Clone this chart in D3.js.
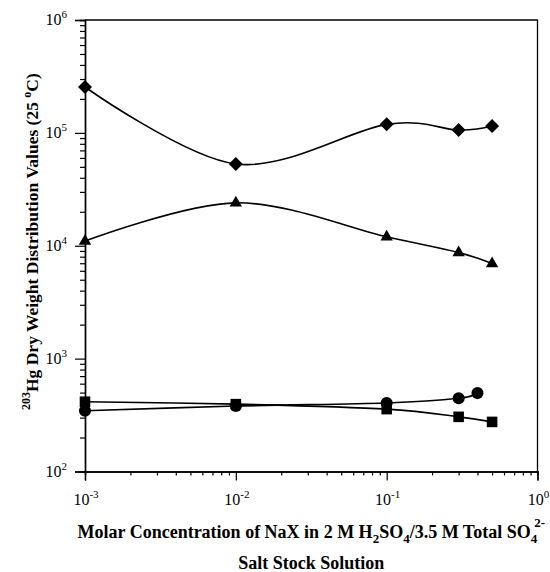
<!DOCTYPE html>
<html>
<head>
<meta charset="utf-8">
<script src="https://cdn.jsdelivr.net/npm/d3@7"></script>
<style>
  body { margin: 0; background: #fff; }
  svg { display: block; }
  text { font-family: "Liberation Serif", "Times New Roman", serif; fill: #000; }
</style>
</head>
<body>
<div id="chart"></div>
<script>
// concentrations (M) and distribution values
var conc = [0.001, 0.01, 0.1, 0.3, 0.5];
var concCircle = [0.001, 0.01, 0.1, 0.3, 0.4];
var diamondVals = [255000, 53000, 119000, 106000, 115000];
var triangleVals = [11000, 24000, 12000, 8700, 6950];
var squareVals = [415, 395, 357, 305, 275];
var circleVals = [345, 380, 405, 445, 495];

var xMajor = [0.001, 0.01, 0.1, 1];
var xExp = ["-3", "-2", "-1", "0"];
var yMajor = [100, 1000, 10000, 100000, 1000000];
var yExp = ["2", "3", "4", "5", "6"];

var width = 550, height = 572;
var margin = {top: 20, right: 12.5, bottom: 100.5, left: 85};

var svg = d3.select("#chart").append("svg")
    .attr("width", width)
    .attr("height", height);

var x = d3.scaleLog().domain([0.001, 1]).range([margin.left, width - margin.right]);
var y = d3.scaleLog().domain([100, 1000000]).range([height - margin.bottom, margin.top]);

function minors(majors) {
    var out = [];
    majors.slice(0, -1).forEach(function(m) {
        for (var k = 2; k <= 9; k++) out.push(m * k);
    });
    return out;
}

// frame (top and right)
svg.append("path")
    .attr("d", "M" + x(0.001) + "," + y(1e6) + "H" + x(1) + "V" + y(100))
    .attr("fill", "none").attr("stroke", "#000").attr("stroke-width", 1.3);

// x axis
var gx = svg.append("g").attr("transform", "translate(0," + y(100) + ")");
gx.call(d3.axisBottom(x).tickValues(xMajor).tickSize(9).tickFormat(""));
gx.append("g").call(d3.axisBottom(x).tickValues(minors(xMajor)).tickSize(4).tickFormat(""));

// y axis
var gy = svg.append("g").attr("transform", "translate(" + x(0.001) + ",0)");
gy.call(d3.axisLeft(y).tickValues(yMajor).tickSize(10).tickFormat(""));
gy.append("g").call(d3.axisLeft(y).tickValues(minors(yMajor)).tickSize(5).tickFormat(""));

svg.selectAll(".domain").attr("stroke-width", 1.4);
svg.selectAll(".tick line").attr("stroke-width", 1.2);

// tick labels
xMajor.forEach(function(v, i) {
    var t = svg.append("text")
        .attr("x", x(v) + 1)
        .attr("y", 505)
        .attr("text-anchor", "middle")
        .style("font-size", "16px");
    t.append("tspan").text("10");
    t.append("tspan").attr("dy", -7).style("font-size", "11px").text(xExp[i]);
});
yMajor.forEach(function(v, i) {
    var t = svg.append("text")
        .attr("x", 67)
        .attr("y", y(v) + 5)
        .attr("text-anchor", "end")
        .style("font-size", "16px");
    t.append("tspan").text("10");
    t.append("tspan").attr("dy", -7).style("font-size", "11px").text(yExp[i]);
});

// curves
var line = d3.line()
    .x(function(d) { return x(d[0]); })
    .y(function(d) { return y(d[1]); })
    .curve(d3.curveCardinal.tension(0));

var series = [
    {xs: conc, ys: diamondVals, shape: "diamond"},
    {xs: conc, ys: triangleVals, shape: "triangle"},
    {xs: conc, ys: squareVals, shape: "square"},
    {xs: concCircle, ys: circleVals, shape: "circle"}
];

series.forEach(function(s) {
    var pts = s.xs.map(function(c, i) { return [c, s.ys[i]]; });
    svg.append("path")
        .datum(pts)
        .attr("d", line)
        .attr("fill", "none")
        .attr("stroke", "#000")
        .attr("stroke-width", 1.6);

    var sym;
    if (s.shape == "diamond") sym = d3.symbol().type(d3.symbolSquare).size(98);
    else if (s.shape == "triangle") sym = d3.symbol().type(d3.symbolTriangle).size(66);
    else if (s.shape == "square") sym = d3.symbol().type(d3.symbolSquare).size(112);
    else sym = d3.symbol().type(d3.symbolCircle).size(115);

    svg.selectAll(null)
        .data(pts)
        .enter()
        .append("path")
        .attr("d", sym)
        .attr("fill", "#000")
        .attr("transform", function(d) {
            var tr = "translate(" + x(d[0]) + "," + y(d[1]) + ")";
            if (s.shape == "diamond") tr += " rotate(45)";
            return tr;
        });
});

// y axis title
var yt = svg.append("text")
    .attr("transform", "translate(38,410) rotate(-90)")
    .attr("text-anchor", "start")
    .style("font-size", "17.5px")
    .style("font-weight", "bold");
yt.append("tspan").attr("dy", -8).style("font-size", "12px").text("203");
yt.append("tspan").attr("dy", 8).text("Hg Dry Weight Distribution Values (25 ");
yt.append("tspan").attr("dy", -7).style("font-size", "12px").text("o");
yt.append("tspan").attr("dy", 7).text("C)");

// x axis title
var xt = svg.append("text")
    .attr("x", (x(0.001) + x(1)) / 2)
    .attr("y", 538)
    .attr("text-anchor", "middle")
    .style("font-size", "18px")
    .style("font-weight", "bold");
xt.append("tspan").text("Molar Concentration of NaX in 2 M H");
xt.append("tspan").attr("dy", 5).style("font-size", "13px").text("2");
xt.append("tspan").attr("dy", -5).text("SO");
xt.append("tspan").attr("dy", 5).style("font-size", "13px").text("4");
xt.append("tspan").attr("dy", -5).text("/3.5 M Total SO");
xt.append("tspan").attr("dy", 5).style("font-size", "13px").text("4");
xt.append("tspan").attr("dx", -3).attr("dy", -16).style("font-size", "13px").text("2-");

svg.append("text")
    .attr("x", (x(0.001) + x(1)) / 2)
    .attr("y", 569)
    .attr("text-anchor", "middle")
    .style("font-size", "18px")
    .style("font-weight", "bold")
    .text("Salt Stock Solution");
</script>
</body>
</html>
